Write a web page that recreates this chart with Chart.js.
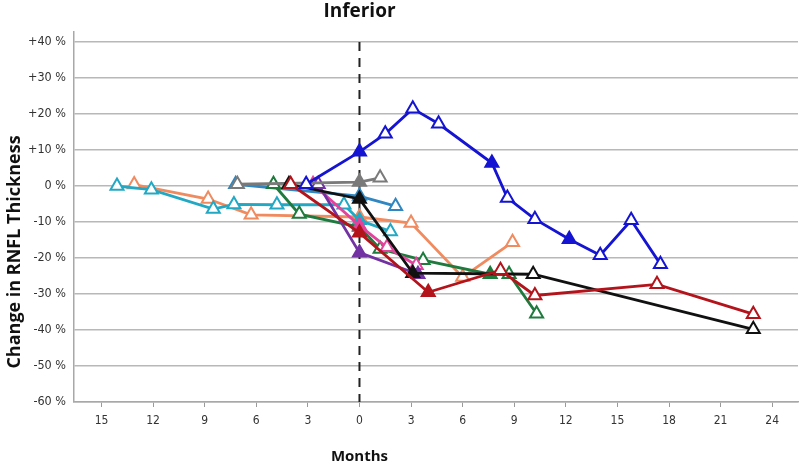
<!DOCTYPE html>
<html>
<head>
<meta charset="utf-8">
<script src="https://cdn.jsdelivr.net/npm/chart.js@4.4.1/dist/chart.umd.min.js"></script>
<style>
  html, body { margin: 0; padding: 0; background: #fff; }
  #wrap { width: 800px; height: 465px; }
</style>
</head>
<body>
<div id="wrap"><canvas id="grafico"></canvas></div>
<script>
// ticks
var xTicks = [-15, -12, -9, -6, -3, 0, 3, 6, 9, 12, 15, 18, 21, 24];
var yTicks = [-60, -50, -40, -30, -20, -10, 0, 10, 20, 30, 40];

// series: months from baseline, % change, solid marker (1) or open (0)
var blueMonths = [-3.1, 0, 1.5, 3.1, 4.6, 7.7, 8.6, 10.2, 12.2, 14.0, 15.8, 17.5];
var blueChange = [0.5, 9.5, 14.5, 21.5, 17.3, 6.4, -3.3, -9.2, -14.8, -19.2, -9.5, -21.7];
var blueSolid  = [0, 1, 0, 0, 0, 1, 0, 0, 1, 0, 0, 0];

var blackMonths = [-4.1, 0, 3.1, 10.1, 22.9];
var blackChange = [0.5, -3.6, -24.2, -24.5, -39.8];
var blackSolid  = [0, 1, 1, 0, 0];

var redMonths = [-4.0, 0, 4.0, 8.2, 10.2, 17.3, 22.9];
var redChange = [0.5, -13, -29.5, -23.4, -30.4, -27.3, -35.6];
var redSolid  = [0, 1, 1, 0, 0, 0, 0];

var grayMonths = [-7.1, 0, 1.2];
var grayChange = [0.5, 1.1, 2.3];
var graySolid  = [0, 1, 0];

var greenMonths = [-5.0, -3.5, 0, 1.2, 3.7, 7.6, 8.7, 10.3];
var greenChange = [0.5, -7.8, -11.4, -17.5, -20.6, -24.5, -24.5, -35.5];
var greenSolid  = [0, 0, 1, 0, 0, 1, 0, 0];

var orangeMonths = [-13.1, -8.8, -6.3, 0, 3.0, 6.0, 8.9];
var orangeChange = [0.4, -3.6, -8.0, -8.6, -10.3, -25.3, -15.6];
var orangeSolid  = [0, 0, 0, 1, 0, 0, 0];

var cyanMonths = [-14.1, -12.1, -8.5, -7.3, -4.8, -0.9, 0, 1.8];
var cyanChange = [0, -1, -6.4, -5.1, -5.2, -5.2, -9.5, -12.6];
var cyanSolid  = [0, 0, 0, 0, 0, 0, 1, 0];

var steelMonths = [-7.2, 0, 2.1];
var steelChange = [0.5, -2.8, -5.6];
var steelSolid  = [0, 1, 0];

var pinkMonths = [-2.7, 0, 1.6, 3.3];
var pinkChange = [0.5, -11, -17, -22];
var pinkSolid  = [0, 1, 0, 0];

var purpleMonths = [-2.4, 0, 3.4];
var purpleChange = [0.5, -18.5, -24.5];
var purpleSolid  = [0, 1, 1];

function serie(months, change, solid, cor) {
    return {
        data: months.map(function (m, i) { return { x: m, y: change[i] }; }),
        showLine: true,
        borderColor: cor,
        borderWidth: 2.8,
        pointStyle: 'triangle',
        pointRadius: 7.5,
        pointHoverRadius: 7.5,
        pointBorderWidth: 2,
        pointBorderColor: cor,
        pointBackgroundColor: solid.map(function (s) { return s ? cor : '#ffffff'; })
    };
}

var linhaZero = {
    id: 'linhaZero',
    beforeDatasetsDraw: function (chart) {
        var c = chart.ctx, x = chart.scales.x.getPixelForValue(0);
        c.save();
        c.strokeStyle = '#222';
        c.lineWidth = 2;
        c.setLineDash([9, 7]);
        c.beginPath();
        c.moveTo(x, chart.scales.y.getPixelForValue(40));
        c.lineTo(x, chart.scales.y.bottom);
        c.stroke();
        c.restore();
    },
    afterDraw: function (chart) {
        var c = chart.ctx, x = chart.scales.x.getPixelForValue(0);
        c.save();
        c.fillStyle = '#111';
        c.textAlign = 'center';
        c.textBaseline = 'middle';
        c.font = 'bold 19px "Open Sans", sans-serif';
        c.fillText('Inferior', x, 12);
        c.font = 'bold 15px "Open Sans", sans-serif';
        c.fillText('Months', x, 457);
        c.translate(15, 252);
        c.rotate(-Math.PI / 2);
        c.font = 'bold 18px "Open Sans", sans-serif';
        c.fillText('Change in RNFL Thickness', 0, 0);
        c.restore();
    }
};

var ctx = document.getElementById('grafico');
var chartgraph = new Chart(ctx, {
    type: 'scatter',
    data: {
        datasets: [
            serie(blueMonths, blueChange, blueSolid, '#1414d2'),
            serie(redMonths, redChange, redSolid, '#b3141c'),
            serie(blackMonths, blackChange, blackSolid, '#111111'),
            serie(grayMonths, grayChange, graySolid, '#7a7a7a'),
            serie(purpleMonths, purpleChange, purpleSolid, '#7232a2'),
            serie(pinkMonths, pinkChange, pinkSolid, '#e2449c'),
            serie(greenMonths, greenChange, greenSolid, '#1f7a3e'),
            serie(steelMonths, steelChange, steelSolid, '#2f86c0'),
            serie(cyanMonths, cyanChange, cyanSolid, '#23a8c4'),
            serie(orangeMonths, orangeChange, orangeSolid, '#f08b60')
        ]
    },
    options: {
        responsive: true,
        maintainAspectRatio: false,
        animation: false,
        layout: { autoPadding: false, padding: { top: 32, right: 2, left: 0, bottom: 0 } },
        plugins: {
            legend: { display: false },
            tooltip: { enabled: false }
        },
        scales: {
            x: {
                type: 'linear',
                min: -16.6,
                max: 25.5,
                afterBuildTicks: function (s) { s.ticks = xTicks.map(function (v) { return { value: v }; }); },
                afterFit: function (s) { s.height = 63; s.paddingLeft = 0; s.paddingRight = 0; },
                grid: { drawOnChartArea: false, drawTicks: true, tickLength: 5, color: '#9a9a9a', lineWidth: 1 },
                border: { color: '#a8a8a8', width: 1.5 },
                ticks: {
                    color: '#333',
                    padding: 7,
                    font: { family: '"Liberation Sans Narrow", "DejaVu Sans Condensed", sans-serif', size: 12 },
                    callback: function (v) { return Math.abs(v); }
                }
            },
            y: {
                min: -60,
                max: 42.8,
                afterBuildTicks: function (s) { s.ticks = yTicks.map(function (v) { return { value: v }; }); },
                afterFit: function (s) { s.width = 74; s.paddingTop = 0; s.paddingBottom = 0; },
                grid: { color: '#b8b8b8', lineWidth: 1.5, drawTicks: false },
                border: { color: '#a8a8a8', width: 1.5 },
                ticks: {
                    color: '#333',
                    padding: 8,
                    font: { family: '"Liberation Sans Narrow", "DejaVu Sans Condensed", sans-serif', size: 12.5 },
                    callback: function (v) { return (v > 0 ? '+' + v : v) + ' %'; }
                }
            }
        }
    },
    plugins: [linhaZero]
});
</script>
</body>
</html>
